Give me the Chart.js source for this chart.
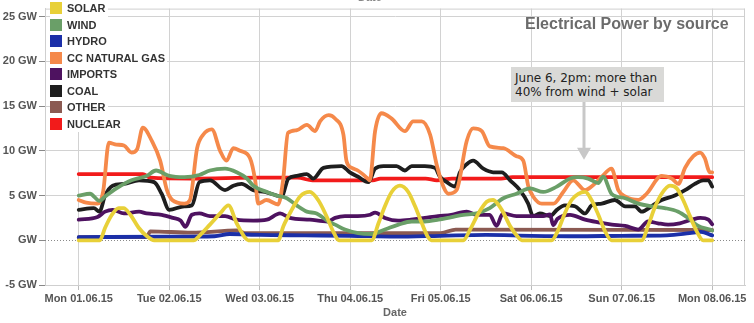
<!DOCTYPE html>
<html><head><meta charset="utf-8">
<script src="https://cdn.jsdelivr.net/npm/chart.js@4.4.0/dist/chart.umd.min.js"></script>
<style>
html,body{margin:0;padding:0;background:#fff;}
#wrap{position:relative;width:754px;height:323px;overflow:hidden;}
#c{position:absolute;left:0;top:0;}
#legend{position:absolute;left:50px;top:0px;font:bold 11px "Liberation Sans",Arial,sans-serif;color:#333;}
#legend .row{display:flex;align-items:center;height:16.5px;background:#fff;width:max-content;padding-right:2px;}
#legend .sw{width:12px;height:12px;margin-right:5px;}
#title{position:absolute;left:525px;top:15px;font:bold 16px "Liberation Sans",Arial,sans-serif;color:#6b6b6b;white-space:nowrap;}
#note{position:absolute;left:511px;top:67px;width:153px;height:35px;background:#d9d9d7;font:12px "DejaVu Sans",Verdana,sans-serif;color:#222;line-height:14px;padding:4px 0 0 4px;box-sizing:border-box;white-space:nowrap;}
#topdate{position:absolute;left:358px;top:-9px;font:bold 11px "Liberation Sans",Arial,sans-serif;color:#888;}
</style></head>
<body>
<div id="wrap">
<canvas id="c" width="754" height="323"></canvas>
<div id="topdate">Date</div>
<div id="legend"></div>
<div id="title">Electrical Power by source</div>
<div id="note">June 6, 2pm: more than<br>40% from wind + solar</div>
</div>
<script>
// ---- data (hours from Mon 01.06.15 00:00, values in GW) ----
const xTickHours = [0,24,48,72,96,120,144,168];
const xTickLabels = ['Mon 01.06.15','Tue 02.06.15','Wed 03.06.15','Thu 04.06.15','Fri 05.06.15','Sat 06.06.15','Sun 07.06.15','Mon 08.06.15'];
const yTickValues = [-5,0,5,10,15,20,25];
const yTickLabels = ['-5 GW','GW','5 GW','10 GW','15 GW','20 GW','25 GW'];
const seriesNames = ['SOLAR','WIND','HYDRO','CC NATURAL GAS','IMPORTS','COAL','OTHER','NUCLEAR'];
const noteHour = 134; // June 6, 2pm

const solarH  = [0,5.6,7,8.8,10.6,11.9,13.7,15.9,18.1,20,30.5,32,34.8,37.5,39.7,41.9,44.1,45,52.9,54.3,56.5,58.7,61.3,63.5,65.6,67.7,69,77.7,79.5,81.2,83,85.2,87.4,89.2,91,92.7,93.5,102,103.8,106,108.2,109.9,112.2,114.4,116.6,117.5,125.4,127.2,128.9,130.7,132.5,134.3,136,137.8,139.6,141.3,149.3,151.1,152.9,154.6,156.8,158.6,160.3,162.1,163.9,165.6,168];
const solarGW = [0,0,1.4,2.85,3.6,3.6,2.85,1.4,0.45,0,0,0.5,1.75,3.0,3.9,1.9,0.3,0,0,1.6,3.4,4.9,5.4,4.5,2.8,0.8,0,0,1.9,3.8,5.4,6.1,5.4,3.8,1.9,0.3,0,0,1.2,3.0,4.3,4.5,3.4,1.6,0.3,0,0,1.2,3.0,4.5,5.2,5.4,4.5,2.85,1.0,0,0,1.75,3.8,5.2,6.1,5.8,4.5,2.7,1.0,0,0];

const windH  = [0,3,5.5,7,10,14,18,20.5,24,28,32,34.8,38.8,41.9,44.6,46.3,49.9,52.5,55.2,57.8,60.5,63.1,66.2,68,70.6,74.1,77.7,81.2,84.8,88.3,91.8,95.4,98.9,102,105.5,109,112.6,116.1,119.7,123.2,126.8,130.3,132.4,135.1,137.8,139.1,141.3,144.9,148.4,151.9,155.4,159,161.6,164.3,167.4,168];
const windGW = [5.0,5.2,4.4,4.9,5.8,6.7,7.2,7.8,7.2,7.05,7.3,7.8,8.0,7.6,6.9,6.1,5.4,5.0,4.7,3.9,3.2,3.0,2.1,1.75,1.2,0.8,0.7,1.2,1.75,2.1,2.1,2.3,2.6,2.85,3.0,3.6,4.7,5.2,5.8,5.4,6.0,6.9,7.05,6.9,6.4,7.1,5.2,4.7,4.1,3.8,3.6,3.2,2.5,1.6,1.2,1.1];

const hydroH  = [0,24,36,40,48,60,72,84,96,108,120,132,144,156,162,165,168];
const hydroGW = [0.35,0.4,0.45,0.7,0.6,0.55,0.5,0.4,0.5,0.6,0.5,0.45,0.5,0.55,0.8,0.95,0.55];

const gasH  = [0,2,5,6.5,8,10,12,14,15.5,17,19.4,21.6,23.4,24.8,28,29.5,31.4,33,35.3,37.5,39.2,41,42.8,45.4,46.8,47.6,49.8,52.9,54.2,55.5,57.8,60.5,62.7,64,66.3,68,70.2,71,72.4,74,76.4,77.2,78.6,80.3,83,86.5,88.7,91,93.2,94.9,96.7,98,100.2,102.9,104.6,106.9,109,112.6,116.1,117.9,119.2,120.5,122.8,125.9,128.5,131.1,134.3,136,138.7,141.3,143.1,144.9,148.4,150.6,154.6,157.3,159,160.8,163,164.8,166,167.4,168];
const gasGW = [4.5,4.2,4.1,5.5,10.9,10.7,10.6,9.8,10.2,12.6,11.1,8.9,5.6,4.5,4.1,4.5,10.3,11.8,12.4,10.0,8.9,10.3,10.0,9.2,6.7,4.1,4.5,4.0,6.7,12.0,12.3,12.9,12.2,13.3,14.0,13.6,11.8,8.9,8.1,7.8,7.0,6.7,12.2,14.2,13.6,12.2,13.3,13.3,11.8,8.5,6.0,5.2,5.6,11.1,12.5,12.2,10.5,10.3,9.4,8.9,6.1,4.9,4.1,4.1,5.4,6.7,5.6,6.0,7.1,8.0,5.6,4.9,4.5,5.2,7.2,6.9,6.3,8.1,9.4,9.8,9.2,7.6,7.6];

const importsH  = [0,5,7,9,12,16,18,22,25,27,28.3,30,32,34.8,38.8,41.9,46.3,49.9,53.4,56,61.3,66,68,70.6,74,77.3,78.6,81.2,84.7,88.1,91.8,95.3,98.8,102.9,105.5,109,110.8,112.5,116.1,119.7,123.2,125,125.8,127,130.3,134.3,137.8,141.4,144.9,148.4,151,153.6,156.3,159.4,162.6,164.8,167,168];
const importsGW = [2.3,2.6,3.2,3.4,3.0,3.2,3.0,2.85,2.5,2.2,1.5,2.85,3.0,2.7,2.7,2.3,2.2,2.3,3.0,2.5,2.3,2.1,2.5,2.7,2.7,2.85,3.1,2.5,2.2,2.3,2.5,2.7,2.85,3.2,2.85,2.85,1.6,3.0,2.7,2.7,2.7,2.9,1.7,2.4,2.85,2.3,2.0,1.75,1.6,1.2,2.1,1.9,1.75,1.9,2.3,2.5,2.3,1.8];

const coalH  = [0,4,5.5,7,9,12,16,20,22,24,28,30,32,34.8,38.8,41,43.2,46.3,49.4,52.5,53.8,55.6,57.8,60.5,62.2,64.9,69.7,71.9,74.1,76.8,78.6,80.8,84.3,86.5,88.3,91.8,94.5,95.8,97.6,99.8,101.1,102.9,104.6,107.3,109.9,112.2,114.4,117,119.2,120.5,122.3,125,126.8,128.9,131.6,134.3,136,138.7,142.2,144.9,147.5,149.3,151.9,154.6,158.1,160.8,163.4,165.6,167,168];
const coalGW = [3.4,3.6,3.2,5.0,6.1,6.3,6.7,6.5,5.2,3.4,3.8,3.9,6.5,6.7,5.6,6.1,6.3,5.6,5.4,5.0,4.9,6.9,7.2,7.4,6.9,8.1,8.3,7.6,7.1,6.5,8.0,8.3,8.3,7.8,8.3,8.3,8.1,7.1,6.5,6.0,7.6,8.5,8.9,8.0,7.6,7.6,6.7,5.6,4.1,2.7,3.0,2.7,3.4,3.9,3.8,3.0,3.9,4.1,4.5,3.8,3.8,3.2,3.8,4.5,5.0,5.6,6.3,6.7,6.7,6.0];

const otherH  = [0,18,19,30,42,44,96,100,168];
const otherGW = [0.35,0.35,1.0,0.85,1.1,0.8,0.8,1.2,1.15];

const nuclearH  = [0,17,19,30,48,58,62,78,80,92,95,99,112,115,168];
const nuclearGW = [7.4,7.4,7.0,6.9,7.0,7.0,6.7,6.7,6.9,6.9,6.7,6.9,6.9,7.05,7.05];

// ---- styling ----
const colors = ['#e8d038','#6a9f68','#1b2fa8','#f5894a','#4e1260','#1e1e1e','#8b5a52','#f21b1b'];
const seriesH  = [solarH, windH, hydroH, gasH, importsH, coalH, otherH, nuclearH];
const seriesGW = [solarGW, windGW, hydroGW, gasGW, importsGW, coalGW, otherGW, nuclearGW];

// legend (HTML)
const leg = document.getElementById('legend');
seriesNames.forEach((n,i)=>{
  const r=document.createElement('div'); r.className='row';
  const s=document.createElement('span'); s.className='sw'; s.style.background=colors[i];
  const t=document.createElement('span'); t.textContent=n;
  r.appendChild(s); r.appendChild(t); leg.appendChild(r);
});

const font = {family:'"Liberation Sans", Arial, sans-serif', weight:'bold', size:11};

const framePlugin = {
  id:'frame',
  beforeDatasetsDraw(chart){
    const {ctx, chartArea:a, scales:{y}} = chart;
    ctx.save();
    ctx.strokeStyle='#cfcfcf'; ctx.lineWidth=1;
    ctx.beginPath();
    ctx.moveTo(a.left, a.top+0.5); ctx.lineTo(a.right, a.top+0.5);
    ctx.moveTo(a.right-0.5, a.top); ctx.lineTo(a.right-0.5, a.bottom);
    ctx.stroke();
    const y0 = Math.round(y.getPixelForValue(0))+0.5;
    ctx.setLineDash([1,2]); ctx.strokeStyle='#8a8a8a';
    ctx.beginPath(); ctx.moveTo(a.left,y0); ctx.lineTo(a.right,y0); ctx.stroke();
    ctx.restore();
  },
  afterDatasetsDraw(chart){
    const {ctx, scales:{x,y}} = chart;
    const ax = Math.round(x.getPixelForValue(noteHour));
    const tip = y.getPixelForValue(9.0);
    ctx.save();
    ctx.strokeStyle='#c8c8c8'; ctx.fillStyle='#c8c8c8'; ctx.lineWidth=3;
    ctx.beginPath(); ctx.moveTo(ax,102); ctx.lineTo(ax,tip-10); ctx.stroke();
    ctx.beginPath(); ctx.moveTo(ax-7,tip-12); ctx.lineTo(ax+7,tip-12); ctx.lineTo(ax,tip); ctx.closePath(); ctx.fill();
    ctx.restore();
  }
};

new Chart(document.getElementById('c'), {
  type:'line',
  data:{
    datasets: seriesNames.map((n,i)=>({
      label:n,
      data: seriesH[i].map((h,j)=>({x:h, y:seriesGW[i][j]})),
      borderColor: colors[i], backgroundColor: colors[i],
      borderWidth: 3.8, pointRadius:0, tension:0.25, cubicInterpolationMode:'monotone',
      borderJoinStyle:'round', borderCapStyle:'round', fill:false
    }))
  },
  options:{
    responsive:false, animation:false, devicePixelRatio:1,
    layout:{padding:{top:3,right:9,left:0,bottom:0}},
    plugins:{legend:{display:false}, tooltip:{enabled:false}, title:{display:false}},
    scales:{
      x:{
        type:'linear', min:-8.94, max:176.7,
        afterBuildTicks: s => { s.ticks = xTickHours.map(v=>({value:v})); },
        ticks:{ callback:v => { const k=xTickHours.indexOf(v); return k>=0 ? xTickLabels[k] : ''; },
                font, color:'#555', maxRotation:0, autoSkip:false, padding:2 },
        grid:{ color:'#d2d2d2', tickColor:'#bbb', tickLength:5 },
        border:{ color:'#cfcfcf' },
        title:{ display:true, text:'Date', font, color:'#666', padding:{top:0,bottom:3} },
        afterFit: s => { s.height = 38; }
      },
      y:{
        min:-5, max:25.9,
        ticks:{ stepSize:5, includeBounds:false,
                callback:v => { const k=yTickValues.indexOf(v); return k>=0 ? yTickLabels[k] : ''; },
                font, color:'#555', padding:2 },
        grid:{ color: c => (c.tick && c.tick.value===0) ? 'rgba(0,0,0,0)' : '#d2d2d2', tickColor:'#888', tickLength:6 },
        border:{ color:'#cfcfcf' },
        afterFit: s => { s.width = 45; }
      }
    }
  },
  plugins:[framePlugin]
});
</script>
</body></html>
